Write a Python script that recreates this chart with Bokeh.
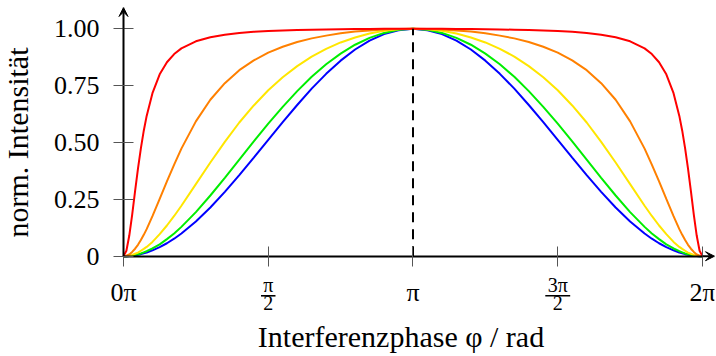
import math
from bokeh.plotting import figure
from bokeh.models import FixedTicker, Range1d, Arrow, VeeHead
from bokeh.core.properties import value
from bokeh.embed import file_html
from bokeh.resources import INLINE

# phase in units of pi
phase_pi = [0, 0.01, 0.02, 0.03, 0.04, 0.05, 0.06, 0.07, 0.08, 0.1, 0.125, 0.15, 0.175, 0.2,
            0.25, 0.3, 0.35, 0.4, 0.45, 0.5, 0.55, 0.6, 0.65, 0.7, 0.75, 0.8, 0.85, 0.9, 0.95, 1.0,
            1.05, 1.1, 1.15, 1.2, 1.25, 1.3, 1.35, 1.4, 1.45, 1.5, 1.55, 1.6, 1.65, 1.7, 1.75,
            1.8, 1.825, 1.85, 1.875, 1.9, 1.92, 1.93, 1.94, 1.95, 1.96, 1.97, 1.98, 1.99, 2.0]

intensity_blue = [0, 0.000, 0.001, 0.002, 0.004, 0.006, 0.009, 0.013, 0.016, 0.026, 0.040, 0.057, 0.077, 0.100,
                  0.153, 0.214, 0.283, 0.357, 0.434, 0.512, 0.590, 0.665, 0.737, 0.802, 0.860, 0.909, 0.948, 0.977, 0.994, 1.0,
                  0.994, 0.977, 0.948, 0.909, 0.860, 0.802, 0.737, 0.665, 0.590, 0.512, 0.434, 0.357, 0.283, 0.214, 0.153,
                  0.100, 0.077, 0.057, 0.040, 0.026, 0.016, 0.013, 0.009, 0.006, 0.004, 0.002, 0.001, 0.000, 0]

intensity_green = [0, 0.000, 0.001, 0.003, 0.006, 0.009, 0.012, 0.017, 0.022, 0.034, 0.052, 0.075, 0.100, 0.129,
                   0.194, 0.267, 0.345, 0.425, 0.505, 0.583, 0.657, 0.726, 0.789, 0.844, 0.891, 0.930, 0.960, 0.982, 0.996, 1.0,
                   0.996, 0.982, 0.960, 0.930, 0.891, 0.844, 0.789, 0.726, 0.657, 0.583, 0.505, 0.425, 0.345, 0.267, 0.194,
                   0.129, 0.100, 0.075, 0.052, 0.034, 0.022, 0.017, 0.012, 0.009, 0.006, 0.003, 0.001, 0.000, 0]

intensity_yellow = [0, 0.001, 0.003, 0.006, 0.011, 0.016, 0.024, 0.032, 0.041, 0.063, 0.097, 0.135, 0.177, 0.222,
                    0.317, 0.412, 0.503, 0.588, 0.663, 0.730, 0.787, 0.836, 0.878, 0.912, 0.940, 0.962, 0.979, 0.991, 0.998, 1.0,
                    0.998, 0.991, 0.979, 0.962, 0.940, 0.912, 0.878, 0.836, 0.787, 0.730, 0.663, 0.588, 0.503, 0.412, 0.317,
                    0.222, 0.177, 0.135, 0.097, 0.063, 0.041, 0.032, 0.024, 0.016, 0.011, 0.006, 0.003, 0.001, 0]

intensity_orange = [0, 0.002, 0.008, 0.019, 0.033, 0.050, 0.071, 0.094, 0.119, 0.176, 0.252, 0.329, 0.403, 0.473,
                    0.593, 0.688, 0.761, 0.818, 0.861, 0.895, 0.921, 0.942, 0.958, 0.970, 0.980, 0.988, 0.993, 0.997, 0.999, 1.0,
                    0.999, 0.997, 0.993, 0.988, 0.980, 0.970, 0.958, 0.942, 0.921, 0.895, 0.861, 0.818, 0.761, 0.688, 0.593,
                    0.473, 0.403, 0.329, 0.252, 0.176, 0.119, 0.094, 0.071, 0.050, 0.033, 0.019, 0.008, 0.002, 0]

intensity_red = [0, 0.024, 0.091, 0.183, 0.286, 0.385, 0.474, 0.552, 0.617, 0.717, 0.800, 0.853, 0.889, 0.914,
                 0.945, 0.963, 0.974, 0.982, 0.987, 0.990, 0.993, 0.995, 0.996, 0.997, 0.998, 0.999, 0.999, 1.0, 1.0, 1.0,
                 1.0, 1.0, 0.999, 0.999, 0.998, 0.997, 0.996, 0.995, 0.993, 0.990, 0.987, 0.982, 0.974, 0.963, 0.945,
                 0.914, 0.889, 0.853, 0.800, 0.717, 0.617, 0.552, 0.474, 0.385, 0.286, 0.183, 0.091, 0.024, 0]

series = [
    ("blue", intensity_blue, "#0000ff"),
    ("green", intensity_green, "#00ee00"),
    ("yellow", intensity_yellow, "#ffe600"),
    ("orange", intensity_orange, "#ff8000"),
    ("red", intensity_red, "#ff0000"),
]

x_ticks = [0, 0.5, 1, 1.5, 2]
x_tick_labels = ["0π", "", "π", "", "2π"]
frac_ticks = [0.5, 1.5]
frac_numerators = ["π", "3π"]
frac_denominators = ["2", "2"]

y_ticks = [0, 0.25, 0.5, 0.75, 1.0]
y_tick_labels = ["0", "0.25", "0.50", "0.75", "1.00"]

x_title = "Interferenzphase φ / rad"
y_title = "norm. Intensität"

FONT = value("Liberation Serif")

# view window (data units)
X_START = -0.4249
X_END = 2.0415
Y_END = 1.0937
Y_START = -0.441

p = figure(width=716, height=356, output_backend="svg", toolbar_location=None,
           x_range=Range1d(X_START, X_END), y_range=Range1d(Y_START, Y_END),
           min_border_left=0, min_border_right=2, min_border_top=7, min_border_bottom=0)
p.outline_line_color = None
p.xgrid.visible = False
p.ygrid.visible = False
p.background_fill_color = "white"
p.border_fill_color = "white"

for name, ys, color in series:
    p.line(phase_pi, ys, line_color=color, line_width=2)

# dashed line at the maximum
peak_value = max(intensity_blue)
peak_phase = phase_pi[intensity_blue.index(peak_value)]
p.line([peak_phase, peak_phase], [0, peak_value], line_color="black", line_width=2, line_dash="10 7")

# axes, crossing at the origin
xa = p.xaxis[0]
ya = p.yaxis[0]
xa.fixed_location = 0
ya.fixed_location = 0
xa.ticker = FixedTicker(ticks=x_ticks, minor_ticks=[])
ya.ticker = FixedTicker(ticks=y_ticks, minor_ticks=[])
xa.major_label_overrides = {t: l for t, l in zip(x_ticks, x_tick_labels)}
ya.major_label_overrides = {t: l for t, l in zip(y_ticks, y_tick_labels)}
xa.bounds = (x_ticks[0], x_ticks[-1])
ya.bounds = (y_ticks[0], y_ticks[-1])
for ax in (xa, ya):
    ax.axis_line_color = "black"
    ax.axis_line_width = 2
    ax.major_tick_in = 10
    ax.major_tick_out = 10
    ax.major_tick_line_color = "#555555"
    ax.major_tick_line_width = 1
    ax.minor_tick_line_color = None
    ax.major_label_text_font = "Liberation Serif"
    ax.major_label_text_font_size = "26px"
    ax.major_label_text_color = "black"
xa.major_label_standoff = 12
ya.major_label_standoff = 14

# axis arrows
p.add_layout(Arrow(end=VeeHead(size=9, fill_color="black", line_color="black", line_width=1),
                   x_start=x_ticks[-1], y_start=0, x_end=X_END, y_end=0,
                   line_color="black", line_width=2))
p.add_layout(Arrow(end=VeeHead(size=9, fill_color="black", line_color="black", line_width=1),
                   x_start=0, y_start=y_ticks[-1], x_end=0, y_end=Y_END,
                   line_color="black", line_width=2))

# fraction tick labels (pi/2, 3pi/2)
FRAC_BAR_Y = -0.174
frac_half_widths = [0.025, 0.043]
p.text(x=frac_ticks, y=[0] * len(frac_ticks), text=frac_numerators, text_align="center",
       text_baseline="alphabetic", y_offset=29, text_font=FONT, text_font_size="20px", text_color="black")
p.text(x=frac_ticks, y=[0] * len(frac_ticks), text=frac_denominators, text_align="center",
       text_baseline="alphabetic", y_offset=47, text_font=FONT, text_font_size="20px", text_color="black")
p.segment(x0=[x - h for x, h in zip(frac_ticks, frac_half_widths)], y0=[FRAC_BAR_Y] * 2,
          x1=[x + h for x, h in zip(frac_ticks, frac_half_widths)], y1=[FRAC_BAR_Y] * 2,
          line_color="black", line_width=1.6)

# axis titles
p.text(x=[peak_phase], y=[0], text=[x_title], text_align="center", text_baseline="alphabetic",
       x_offset=-12, y_offset=80, text_font=FONT, text_font_size="30px", text_color="black")
p.text(x=[0], y=[(y_ticks[0] + y_ticks[-1]) / 2], text=[y_title], angle=math.pi / 2,
       text_align="center", text_baseline="middle", x_offset=-106,
       text_font=FONT, text_font_size="30px", text_color="black")

open("out.html", "w").write(file_html(p, INLINE))
